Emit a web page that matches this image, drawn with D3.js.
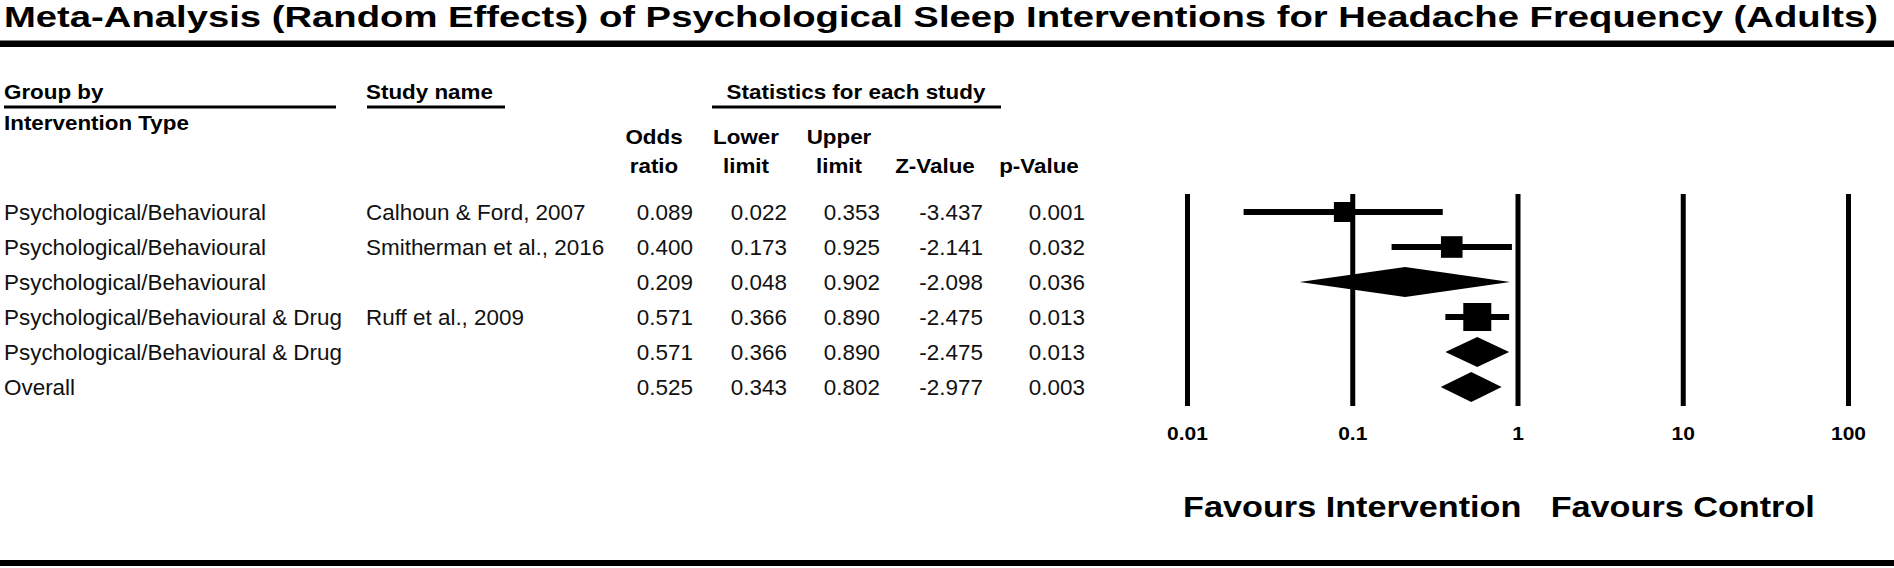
<!DOCTYPE html>
<html>
<head>
<meta charset="utf-8">
<script src="https://cdn.jsdelivr.net/npm/d3@7"></script>
<style>
  html, body { margin: 0; padding: 0; background: #fff; }
  svg { display: block; }
  text { font-family: "Liberation Sans", Arial, sans-serif; }
</style>
</head>
<body>
<svg id="chart" width="1894" height="568"></svg>
<script>
// ---------------- data ----------------
const titleText = "Meta-Analysis (Random Effects) of Psychological Sleep Interventions for Headache Frequency (Adults)";
const groups = [
  "Psychological/Behavioural",
  "Psychological/Behavioural",
  "Psychological/Behavioural",
  "Psychological/Behavioural & Drug",
  "Psychological/Behavioural & Drug",
  "Overall"
];
const studies = ["Calhoun & Ford, 2007", "Smitherman et al., 2016", "", "Ruff et al., 2009", "", ""];
const rowType = ["study", "study", "summary", "study", "summary", "summary"];
const oddsRatio = [0.089, 0.400, 0.209, 0.571, 0.571, 0.525];
const lowerLimit = [0.022, 0.173, 0.048, 0.366, 0.366, 0.343];
const upperLimit = [0.353, 0.925, 0.902, 0.890, 0.890, 0.802];
const zValue = [-3.437, -2.141, -2.098, -2.475, -2.475, -2.977];
const pValue = [0.001, 0.032, 0.036, 0.013, 0.013, 0.003];
const studyWeights = [2.0, 5.5, null, 19.5, null, null];
const tickValues = [0.01, 0.1, 1, 10, 100];
const tickLabels = ["0.01", "0.1", "1", "10", "100"];
const favourLabels = ["Favours Intervention", "Favours Control"];
const favourAt = [0.1, 10];

// ---------------- layout ----------------
const W = 1894, H = 568;
const svg = d3.select("#chart");

function label(g, x, y, str, opt) {
  opt = opt || {};
  const sx = opt.sx || 1.02;
  return g.append("text")
    .attr("transform", `translate(${x},${y}) scale(${sx},1)`)
    .attr("text-anchor", opt.anchor || "start")
    .attr("font-size", opt.size || 22)
    .attr("font-weight", opt.weight || "normal")
    .attr("fill", opt.fill || "#111")
    .text(str);
}
const H1 = {weight: "bold", fill: "#000", size: 20, sx: 1.12};

// title
svg.append("text")
  .attr("x", 4).attr("y", 27)
  .attr("font-size", 30).attr("font-weight", "bold")
  .attr("textLength", 1874).attr("lengthAdjust", "spacingAndGlyphs")
  .attr("fill", "#000")
  .text(titleText);

// rules
svg.append("rect").attr("x", 0).attr("y", 40.5).attr("width", W).attr("height", 6.5).attr("fill", "#000");
svg.append("rect").attr("x", 0).attr("y", 560).attr("width", W).attr("height", 6).attr("fill", "#000");

// header
const hdr = svg.append("g");
label(hdr, 4, 99, "Group by", H1);
label(hdr, 4, 130, "Intervention Type", H1);
label(hdr, 366, 99, "Study name", H1);
label(hdr, 856, 99, "Statistics for each study", Object.assign({anchor: "middle"}, H1));
[[4, 336], [367, 505], [712, 1001]].forEach(([a, b]) => {
  hdr.append("rect").attr("x", a).attr("y", 105.5).attr("width", b - a).attr("height", 3).attr("fill", "#000");
});

const colRight = [693, 787, 880, 983, 1085];
const colHead1 = ["Odds", "Lower", "Upper", "", ""];
const colHead2 = ["ratio", "limit", "limit", "Z-Value", "p-Value"];
const colHeadX = [654, 746, 839, 935, 1039];
colHead1.forEach((t, i) => { if (t) label(hdr, colHeadX[i], 144, t, Object.assign({anchor: "middle"}, H1)); });
colHead2.forEach((t, i) => label(hdr, colHeadX[i], 173, t, Object.assign({anchor: "middle"}, H1)));

// rows
const rows = d3.range(groups.length);
const y = d3.scaleBand().domain(rows).range([194.5, 404.5]);
const cy = i => y(i) + y.bandwidth() / 2;

const body = svg.append("g");
rows.forEach(i => {
  const b = cy(i) + 7.5;
  label(body, 4, b, groups[i]);
  if (studies[i]) label(body, 366, b, studies[i]);
  const vals = [oddsRatio[i], lowerLimit[i], upperLimit[i], zValue[i], pValue[i]];
  vals.forEach((v, k) => label(body, colRight[k], b, v.toFixed(3), {anchor: "end"}));
});

// forest plot
const x = d3.scaleLog().domain([0.01, 100]).range([1187, 1848]);
const axisY = 406;
const axis = d3.axisBottom(x)
  .tickValues(tickValues)
  .tickFormat((d, i) => tickLabels[i])
  .tickSize(-(axisY - 194))
  .tickPadding(22);
const ag = svg.append("g").attr("transform", `translate(0,${axisY})`).call(axis);
ag.select(".domain").remove();
ag.selectAll(".tick line").attr("stroke", "#000").attr("stroke-width", 5);
ag.selectAll(".tick text")
  .attr("fill", "#000")
  .attr("font-size", 17.5).attr("font-weight", "bold")
  .attr("font-family", "Liberation Sans, Arial, sans-serif")
  .attr("transform", "scale(1.2,1)");

const size = d3.scaleLinear().domain([2.0, 19.5]).range([20, 28]);
const plot = svg.append("g");
rows.forEach(i => {
  const c = cy(i);
  if (rowType[i] === "study") {
    plot.append("line")
      .attr("x1", x(lowerLimit[i])).attr("x2", x(upperLimit[i]))
      .attr("y1", c).attr("y2", c)
      .attr("stroke", "#000").attr("stroke-width", 6);
    const s = size(studyWeights[i]);
    plot.append("rect")
      .attr("x", x(oddsRatio[i]) - s / 2).attr("y", c - s / 2)
      .attr("width", s).attr("height", s).attr("fill", "#000");
  } else {
    const h = 15;
    plot.append("path")
      .attr("d", d3.line()([
        [x(lowerLimit[i]), c], [x(oddsRatio[i]), c - h],
        [x(upperLimit[i]), c], [x(oddsRatio[i]), c + h]
      ]) + "Z")
      .attr("fill", "#000");
  }
});

favourLabels.forEach((t, i) => {
  label(svg, x(favourAt[i]), 516.5, t, {size: 29, weight: "bold", anchor: "middle", fill: "#000", sx: 1.18});
});
</script>
</body>
</html>
